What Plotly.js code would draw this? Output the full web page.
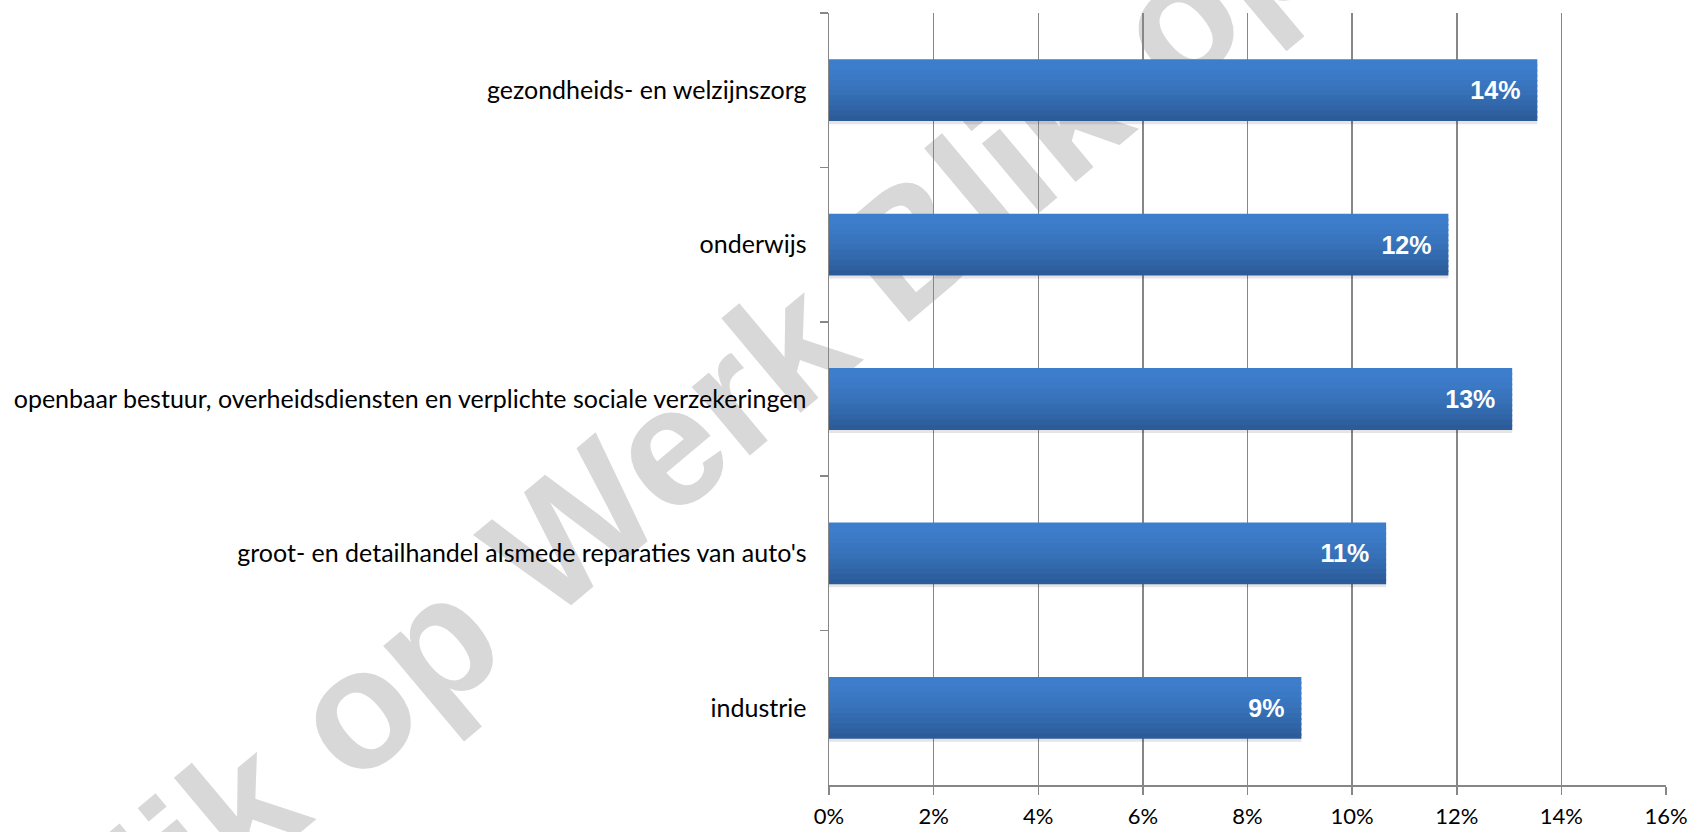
<!DOCTYPE html>
<html>
<head>
<meta charset="utf-8">
<script src="https://cdn.plot.ly/plotly-3.0.1.min.js"></script>
<style>
  html, body { margin: 0; padding: 0; background: #ffffff; }
  #wrap { position: relative; width: 1696px; height: 832px; overflow: hidden; background: #ffffff; }
  #watermark {
    position: absolute; left: 668px; top: 447px;
    transform: translate(-50%, -50%) rotate(-40deg);
    white-space: nowrap; line-height: 1;
    font-family: "Liberation Sans", Arial, sans-serif; font-weight: bold;
    font-size: 170px; color: #d8d8d8; z-index: 0;
    text-shadow: 0 0 3px #ffffff;
  }
  #chart { position: absolute; left: 0; top: 0; width: 1696px; height: 832px; z-index: 1; }
</style>
</head>
<body>
<div id="wrap">
  <div id="watermark">Blik op Werk Blik op</div>
  <div id="chart"></div>
</div>
<script>
// ---- data ----
const categories = [
  "gezondheids- en welzijnszorg",
  "onderwijs",
  "openbaar bestuur, overheidsdiensten en verplichte sociale verzekeringen",
  "groot- en detailhandel alsmede reparaties van auto's",
  "industrie"
];
const shares = [0.1354, 0.1184, 0.1306, 0.1065, 0.0903];
const shareLabels = ["14%", "12%", "13%", "11%", "9%"];
const xTickValues = [0, 0.02, 0.04, 0.06, 0.08, 0.10, 0.12, 0.14, 0.16];
const xTickLabels = ["0%", "2%", "4%", "6%", "8%", "10%", "12%", "14%", "16%"];

// ---- style ----
const barWidth = 0.4;
const nStrips = 12;
const topColor = [61, 126, 204];
const bottomColor = [44, 91, 153];
const gridColor = "#878787";
const labelFont = "Lato, 'Liberation Sans', sans-serif";

function lerpColor(t) {
  const c = topColor.map((v, i) => Math.round(v + (bottomColor[i] - v) * t));
  return "rgb(" + c.join(",") + ")";
}

const traces = [];
// subtle shadow under each bar
traces.push({
  type: "bar", orientation: "h",
  y: categories, x: shares,
  width: 0.03, offset: barWidth / 2 - 0.01,
  marker: { color: "rgba(0,0,0,0.10)", line: { width: 0 } },
  hoverinfo: "skip", showlegend: false
});
// gradient strips (top light -> bottom dark)
const stripW = barWidth / nStrips;
for (let i = 0; i < nStrips; i++) {
  const t = i / (nStrips - 1);
  const last = i === nStrips - 1;
  traces.push({
    type: "bar", orientation: "h",
    y: categories, x: shares,
    width: last ? stripW : stripW + 0.012,
    offset: -barWidth / 2 + i * stripW,
    marker: { color: lerpColor(Math.pow(t, 1.5)), line: { width: 0 } },
    hoverinfo: "skip", showlegend: false
  });
}
// value labels
traces.push({
  type: "bar", orientation: "h",
  y: categories, x: shares,
  width: barWidth,
  marker: { color: "rgba(0,0,0,0)", line: { width: 0 } },
  text: shareLabels.map(s => s + "\u00a0\u00a0"),
  textposition: "inside",
  insidetextanchor: "end",
  constraintext: "none",
  textfont: { family: "'Liberation Sans', Arial, sans-serif", size: 25, color: "#ffffff", weight: "bold" },
  hoverinfo: "skip", showlegend: false
});

const layout = {
  width: 1696, height: 832,
  margin: { l: 829, r: 30, t: 13, b: 47 },
  paper_bgcolor: "rgba(0,0,0,0)",
  plot_bgcolor: "rgba(0,0,0,0)",
  barmode: "overlay",
  showlegend: false,
  font: { family: labelFont, color: "#000000" },
  xaxis: {
    range: [0, 0.16],
    tickvals: xTickValues, ticktext: xTickLabels,
    showgrid: true, gridcolor: gridColor, gridwidth: 1.5,
    zeroline: false,
    showline: true, linecolor: gridColor, linewidth: 1.5,
    ticks: "outside", ticklen: 8, tickcolor: gridColor, tickwidth: 1.5,
    ticklabelstandoff: 3,
    tickfont: { family: labelFont, size: 22, color: "#000000" },
    fixedrange: true
  },
  yaxis: {
    type: "category",
    autorange: "reversed",
    tickson: "boundaries",
    showgrid: false, zeroline: false,
    showline: true, linecolor: gridColor, linewidth: 1.5,
    ticks: "outside", ticklen: 8, tickcolor: gridColor, tickwidth: 1.5,
    ticklabelstandoff: 16,
    tickfont: { family: labelFont, size: 25, color: "#000000" },
    fixedrange: true
  }
};

Plotly.newPlot("chart", traces, layout, { displayModeBar: false, staticPlot: true });
</script>
</body>
</html>
